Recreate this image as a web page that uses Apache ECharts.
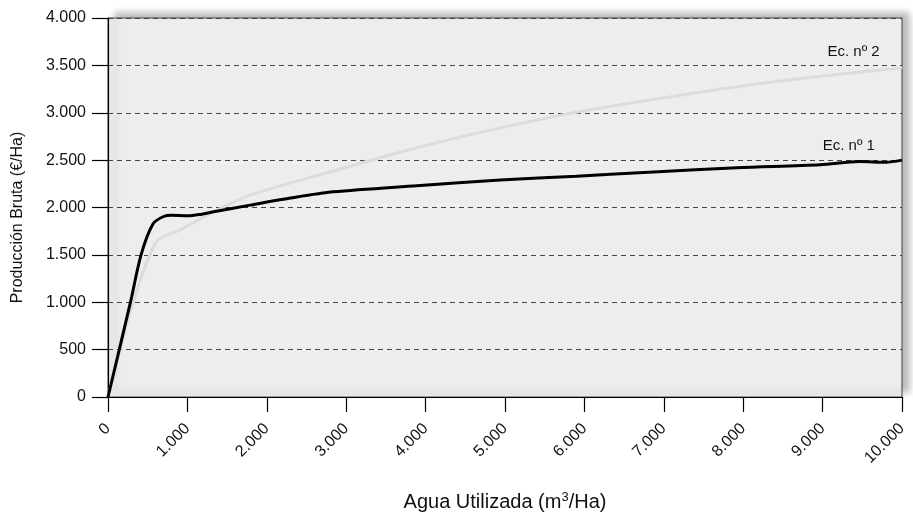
<!DOCTYPE html>
<html>
<head>
<meta charset="utf-8">
<script src="https://cdn.jsdelivr.net/npm/echarts@6/dist/echarts.min.js"></script>
<style>
  html, body { margin: 0; padding: 0; background: #fff; }
  #chart { width: 913px; height: 519px; }
</style>
</head>
<body>
<div id="chart"></div>
<script>
  // Ec. nº 1 (curva negra) - [m3/Ha, €/Ha]
  var ec1 = [
    [0, 0], [280, 990], [420, 1510], [570, 1830], [700, 1905], [800, 1918], [1000, 1912],
    [1150, 1925], [1330, 1955], [1790, 2025], [2300, 2100], [2840, 2165], [3890, 2230],
    [4940, 2290], [5900, 2330], [6870, 2375], [7920, 2420], [8970, 2450], [9470, 2485],
    [9800, 2478], [10000, 2500]
  ];
  // Ec. nº 2 (curva gris)
  var ec2 = [
    [0, 0], [300, 950], [610, 1640], [900, 1760], [1330, 1955], [1790, 2130], [2840, 2385],
    [3890, 2630], [4940, 2840], [5900, 3005], [6870, 3140], [7920, 3275], [8970, 3385],
    [10000, 3475]
  ];
  var ec1Label = { text: 'Ec. nº 1', coord: [9330, 2650] };
  var ec2Label = { text: 'Ec. nº 2', coord: [9390, 3645] };

  var xMin = 0, xMax = 10000, xStep = 1000;
  var yMin = 0, yMax = 4000, yStep = 500;

  function miles(v) {
    return String(v).replace(/\B(?=(\d{3})+(?!\d))/g, '.');
  }

  var font = '"Liberation Sans", Arial, Helvetica, sans-serif';

  function etiqueta(l) {
    return {
      symbol: 'circle',
      symbolSize: 1,
      silent: true,
      itemStyle: { color: 'rgba(0,0,0,0)' },
      label: {
        show: true,
        position: 'inside',
        formatter: l.text,
        color: '#111',
        fontFamily: font,
        fontSize: 15
      },
      data: [{ coord: l.coord, value: l.text }]
    };
  }

  var chart = echarts.init(document.getElementById('chart'), null, { renderer: 'canvas' });
  chart.setOption({
    animation: false,
    grid: {
      left: 108, right: 11, top: 18, bottom: 122,
      show: true,
      backgroundColor: '#ededed',
      borderColor: '#444',
      borderWidth: 1,
      shadowColor: 'rgba(0,0,0,0.28)',
      shadowBlur: 7,
      shadowOffsetX: 7,
      shadowOffsetY: -5
    },
    xAxis: {
      type: 'value',
      min: xMin, max: xMax, interval: xStep,
      name: 'Agua Utilizada (m{sup|3}/Ha)',
      nameLocation: 'middle',
      nameGap: 94,
      nameTextStyle: {
        fontFamily: font, fontSize: 20, color: '#111',
        rich: { sup: { fontFamily: font, fontSize: 13, color: '#111', verticalAlign: 'top', padding: [0, 0, 9, 0] } }
      },
      axisLine: { show: true, onZero: false, lineStyle: { color: '#000', width: 1.2 } },
      axisTick: { show: true, length: 15, lineStyle: { color: '#000', width: 1.2 } },
      splitLine: { show: false },
      axisLabel: {
        rotate: 45,
        margin: 29,
        fontFamily: font, fontSize: 16, color: '#111',
        formatter: miles
      }
    },
    yAxis: {
      type: 'value',
      min: yMin, max: yMax, interval: yStep,
      name: 'Producción Bruta (€/Ha)',
      nameLocation: 'middle',
      nameGap: 82,
      nameTextStyle: { fontFamily: font, fontSize: 16, color: '#111', padding: [0, 20, 0, 0] },
      axisLine: { show: true, lineStyle: { color: '#000', width: 1.2 } },
      axisTick: { show: true, length: 16, lineStyle: { color: '#000', width: 1.2 } },
      splitLine: { show: true, lineStyle: { color: '#444', type: [5, 4], width: 1 } },
      axisLabel: {
        margin: 22,
        fontFamily: font, fontSize: 16, color: '#111',
        formatter: miles
      }
    },
    series: [
      {
        name: 'Ec. nº 2',
        type: 'line',
        data: ec2,
        smooth: 0.3,
        symbol: 'none',
        lineStyle: { color: '#dcdcdc', width: 3 },
        markPoint: etiqueta(ec2Label),
        z: 2
      },
      {
        name: 'Ec. nº 1',
        type: 'line',
        data: ec1,
        smooth: 0.3,
        symbol: 'none',
        lineStyle: { color: '#000', width: 3 },
        markPoint: etiqueta(ec1Label),
        z: 3
      }
    ]
  });
</script>
</body>
</html>
